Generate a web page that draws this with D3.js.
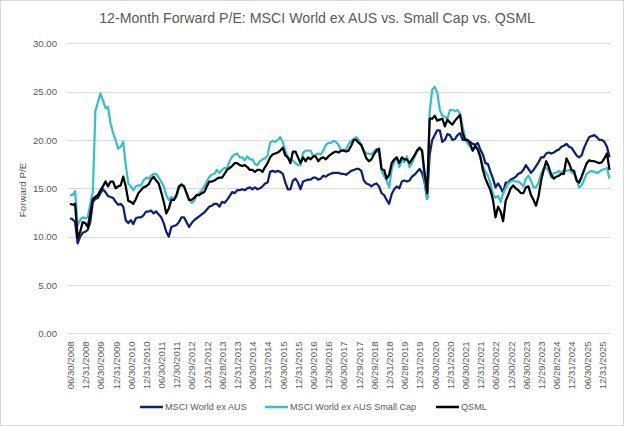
<!DOCTYPE html>
<html>
<head>
<meta charset="utf-8">
<script src="https://cdnjs.cloudflare.com/ajax/libs/d3/7.8.5/d3.min.js"></script>
<style>
  body { margin: 0; background: #fff; }
  text { font-family: "Liberation Sans", Arial, sans-serif; }
</style>
</head>
<body>
<div id="chart"></div>
<script>
//---------------------------DATA-------------------------------//
// monthly points, first one is June 2008 (month index 0)
const startMonth = "2008-06";

const msciWorld = [
  11.9,11.8,11.5,9.3,10.0,10.4,10.5,10.7,11.5,13.6,13.9,14.0,
  14.5,14.9,14.6,14.2,14.1,14.0,13.6,13.3,13.4,13.1,11.7,11.4,
  11.7,11.3,11.9,12.0,12.0,12.2,12.6,12.6,12.7,12.4,12.6,12.3,
  12.0,11.4,10.5,10.0,11.0,11.1,11.2,11.5,12.0,12.0,11.5,11.0,
  11.4,11.7,11.9,12.1,12.3,12.5,12.8,13.1,13.2,13.4,13.4,13.1,
  13.6,13.5,13.8,14.2,14.6,14.5,14.8,14.8,14.9,14.8,15.0,15.1,
  14.9,15.1,14.9,15.0,15.2,15.5,15.6,16.7,16.8,16.7,16.8,16.7,
  16.5,15.6,14.9,14.9,15.8,16.0,15.6,14.9,15.7,15.8,15.9,15.9,
  16.1,16.1,15.9,16.0,16.3,16.2,16.4,16.5,16.6,16.6,16.6,16.5,
  16.5,16.4,16.6,16.8,16.9,17.0,17.0,16.8,15.8,15.5,15.4,15.2,
  15.4,15.5,15.2,14.5,14.3,13.8,13.4,14.4,14.9,15.2,15.0,15.7,
  15.8,15.7,15.8,16.2,16.4,16.7,17.0,16.6,15.6,13.9,18.5,20.0,
  20.5,21.0,21.0,19.8,20.0,20.6,20.5,20.0,20.1,20.5,20.7,20.0,
  20.0,19.8,19.8,19.6,19.5,19.7,19.0,18.5,17.6,17.5,16.7,16.0,
  15.1,15.5,15.1,14.5,15.6,15.6,15.9,16.0,16.2,16.5,16.6,16.9,
  17.4,17.0,16.6,16.9,17.3,17.7,18.2,18.2,18.6,18.7,18.6,18.7,
  18.9,19.0,19.3,19.4,19.6,19.3,19.2,18.8,18.4,18.2,18.4,19.2,
  19.8,20.3,20.4,20.5,20.3,20.0,20.0,19.8,19.3,18.2
];

const msciSmallCap = [
  14.3,14.3,14.7,11.2,11.7,12.0,11.9,12.0,13.4,14.6,23.0,23.9,
  24.8,24.1,23.3,23.4,21.7,20.7,20.0,19.1,19.3,19.8,17.4,15.5,
  15.2,14.8,15.2,15.3,15.3,15.8,16.1,16.0,16.3,16.5,16.5,16.1,
  15.7,15.2,14.3,13.8,14.1,13.8,14.1,15.0,15.3,15.2,14.5,13.8,
  13.5,13.7,14.3,14.5,14.8,15.2,15.7,16.2,16.4,16.5,16.9,16.6,
  16.9,17.1,17.1,17.8,18.3,18.5,18.6,18.2,18.2,17.9,18.3,18.0,
  18.0,17.5,17.4,17.8,18.0,18.1,18.4,19.7,19.9,19.8,20.0,20.3,
  19.8,18.9,18.2,17.9,17.9,17.6,17.4,17.4,18.7,18.9,18.9,18.9,
  18.3,18.5,18.6,18.5,18.9,19.5,19.7,19.7,19.9,19.8,19.5,18.9,
  19.0,19.0,19.6,19.9,20.1,20.3,20.0,19.4,18.9,18.6,18.6,18.5,
  18.8,19.1,18.6,16.8,16.3,15.8,15.1,17.0,17.7,18.2,17.2,17.9,
  17.7,18.3,17.2,17.6,18.2,18.8,19.1,18.8,15.8,13.9,22.9,25.2,
  25.5,24.9,23.1,22.5,22.4,22.2,23.1,23.1,23.0,23.1,22.7,21.4,
  20.3,19.6,19.3,18.9,19.3,19.0,18.1,17.3,16.7,16.3,15.5,14.4,
  14.0,14.2,13.6,14.5,15.0,15.5,15.7,15.8,15.7,15.7,15.5,15.2,
  16.0,16.3,15.8,15.1,15.1,15.6,16.5,17.0,17.1,16.8,16.1,16.6,
  16.6,16.8,16.6,16.9,16.8,16.9,16.7,16.5,16.0,15.1,15.3,15.9,
  16.5,16.7,16.8,16.7,16.6,16.7,16.9,17.0,17.1,16.0
];

const qsml = [
  13.4,13.3,13.4,9.9,10.5,11.5,11.4,11.0,12.4,13.9,14.1,14.3,
  14.8,15.2,15.7,15.2,15.7,15.7,15.0,15.2,15.3,16.2,15.2,13.7,
  13.6,13.4,13.9,14.5,14.8,15.1,15.2,15.4,15.9,16.2,15.8,15.5,
  14.6,13.6,12.4,12.9,13.8,13.8,14.3,15.2,15.4,15.2,14.5,13.8,
  13.8,14.0,14.3,14.3,14.5,14.6,15.2,15.7,15.7,15.8,16.0,16.1,
  16.1,16.5,16.9,17.1,17.3,17.6,17.6,17.4,17.3,17.4,17.2,16.9,
  16.9,16.7,16.9,16.9,16.7,17.2,17.6,18.2,18.5,18.6,18.7,18.9,
  19.2,18.4,18.2,17.6,18.8,18.8,18.2,17.6,18.2,17.8,18.2,18.0,
  18.3,18.3,17.8,18.1,18.2,18.0,18.3,18.5,18.7,18.8,18.7,18.9,
  18.9,18.8,18.9,19.4,20.0,20.0,19.7,19.5,18.8,18.1,17.8,18.0,
  18.5,18.9,19.1,17.0,16.9,16.0,16.4,17.6,18.0,18.2,17.6,18.2,
  18.0,18.0,17.6,18.0,18.4,18.9,19.2,18.9,16.6,14.5,22.2,22.2,
  22.5,22.0,22.1,22.2,21.4,22.1,21.8,21.6,22.0,22.3,22.6,20.7,
  20.0,20.0,19.6,18.9,19.4,19.0,18.3,16.9,16.0,15.4,14.8,13.8,
  12.0,13.1,12.6,11.6,13.7,14.3,15.0,15.3,15.0,14.8,14.5,14.5,
  15.1,15.2,14.3,13.8,13.2,14.2,15.8,16.9,17.8,17.2,16.4,16.0,
  16.2,16.3,16.5,16.5,18.1,17.6,16.9,16.8,15.8,15.6,16.2,16.9,
  17.6,17.9,17.8,17.8,17.7,17.6,17.7,18.1,18.6,16.9
];

// one label every 6 months
const tickLabels = [
  "06/30/2008","12/31/2008","06/30/2009","12/31/2009","06/30/2010","12/31/2010",
  "06/30/2011","12/30/2011","06/29/2012","12/31/2012","06/28/2013","12/31/2013",
  "06/30/2014","12/31/2014","06/30/2015","12/31/2015","06/30/2016","12/30/2016",
  "06/30/2017","12/29/2017","06/29/2018","12/31/2018","06/28/2019","12/31/2019",
  "06/30/2020","12/31/2020","06/30/2021","12/31/2021","06/30/2022","12/30/2022",
  "06/30/2023","12/29/2023","06/28/2024","12/31/2024","06/30/2025","12/31/2025"
];

const yTicks = [0, 5, 10, 15, 20, 25, 30];

const seriesNames = ["MSCI World ex AUS", "MSCI World ex AUS Small Cap", "QSML"];
const seriesColors = ["#0c1f80", "#36bfcf", "#000000"];

//------------------------1. PREPARATION------------------------//
const width = 624;
const height = 426;
const plot = {left: 67, right: 610, top: 43.3, bottom: 333.3};

const svg = d3.select("#chart")
    .append("svg")
    .attr("width", width)
    .attr("height", height);

// chart border
svg.append("rect")
    .attr("x", 0.5).attr("y", 0.5)
    .attr("width", width - 1).attr("height", height - 1)
    .attr("fill", "#fff")
    .attr("stroke", "#d9d9d9");

const slices = [msciWorld, msciSmallCap, qsml].map(function(vals, i) {
    return {
        id: seriesNames[i],
        color: seriesColors[i],
        values: vals.map(function(v, j) { return {idx: j, measurement: v}; })
    };
});

//----------------------------SCALES----------------------------//
const xScale = d3.scaleLinear()
    .domain([-1.2, 213.2])
    .range([plot.left, plot.right]);
const yScale = d3.scaleLinear()
    .domain([0, 30])
    .range([plot.bottom, plot.top]);

//-------------------------2. DRAWING---------------------------//
// title
svg.append("text")
    .attr("x", 317)
    .attr("y", 23)
    .attr("text-anchor", "middle")
    .style("font-size", "14.2px")
    .style("fill", "#595959")
    .text("12-Month Forward P/E: MSCI World ex AUS vs. Small Cap vs. QSML");

// grid
svg.append("g")
    .selectAll("line")
    .data(yTicks)
    .enter()
    .append("line")
    .attr("x1", plot.left)
    .attr("x2", plot.right)
    .attr("y1", d => Math.round(yScale(d)) + 0.5)
    .attr("y2", d => Math.round(yScale(d)) + 0.5)
    .attr("stroke", "#d9d9d9");

//-----------------------------AXES-----------------------------//
const yaxis = d3.axisLeft(yScale)
    .tickValues(yTicks)
    .tickSize(0)
    .tickPadding(10)
    .tickFormat(d3.format(".2f"));

const xaxis = d3.axisBottom(xScale)
    .tickValues(tickLabels.map((d, i) => i * 6))
    .tickSize(0)
    .tickFormat((d, i) => tickLabels[i]);

const gy = svg.append("g")
    .attr("transform", "translate(" + plot.left + ",0)")
    .call(yaxis);
gy.select(".domain").remove();
gy.selectAll("text")
    .style("font-size", "9.6px")
    .style("fill", "#595959");

const gx = svg.append("g")
    .attr("transform", "translate(0," + plot.bottom + ")")
    .call(xaxis);
gx.select(".domain").remove();
gx.selectAll("text")
    .attr("x", -8)
    .attr("y", 0)
    .attr("dy", ".35em")
    .attr("transform", "rotate(-90)")
    .style("text-anchor", "end")
    .style("font-size", "9.6px")
    .style("fill", "#595959");

svg.append("text")
    .attr("transform", "translate(26,190) rotate(-90)")
    .attr("text-anchor", "middle")
    .style("font-size", "9.8px")
    .style("fill", "#595959")
    .text("Forward P/E");

//----------------------------LINES-----------------------------//
const line = d3.line()
    .x(d => xScale(d.idx))
    .y(d => yScale(d.measurement));

svg.append("g")
    .selectAll("path")
    .data(slices)
    .enter()
    .append("path")
    .attr("fill", "none")
    .attr("stroke", d => d.color)
    .attr("stroke-width", 2.25)
    .attr("stroke-linejoin", "round")
    .attr("d", d => line(d.values));

//----------------------------LEGEND----------------------------//
const legendX = [140, 265, 436];
const legend = svg.append("g")
    .selectAll("g")
    .data(slices)
    .enter()
    .append("g")
    .attr("transform", (d, i) => "translate(" + legendX[i] + ",407)");

legend.append("line")
    .attr("x1", 0).attr("x2", 23)
    .attr("stroke", d => d.color)
    .attr("stroke-width", 2.5);

legend.append("text")
    .attr("x", 25)
    .attr("dy", ".35em")
    .style("font-size", "9.1px")
    .style("fill", "#595959")
    .text(d => d.id);
</script>
</body>
</html>
